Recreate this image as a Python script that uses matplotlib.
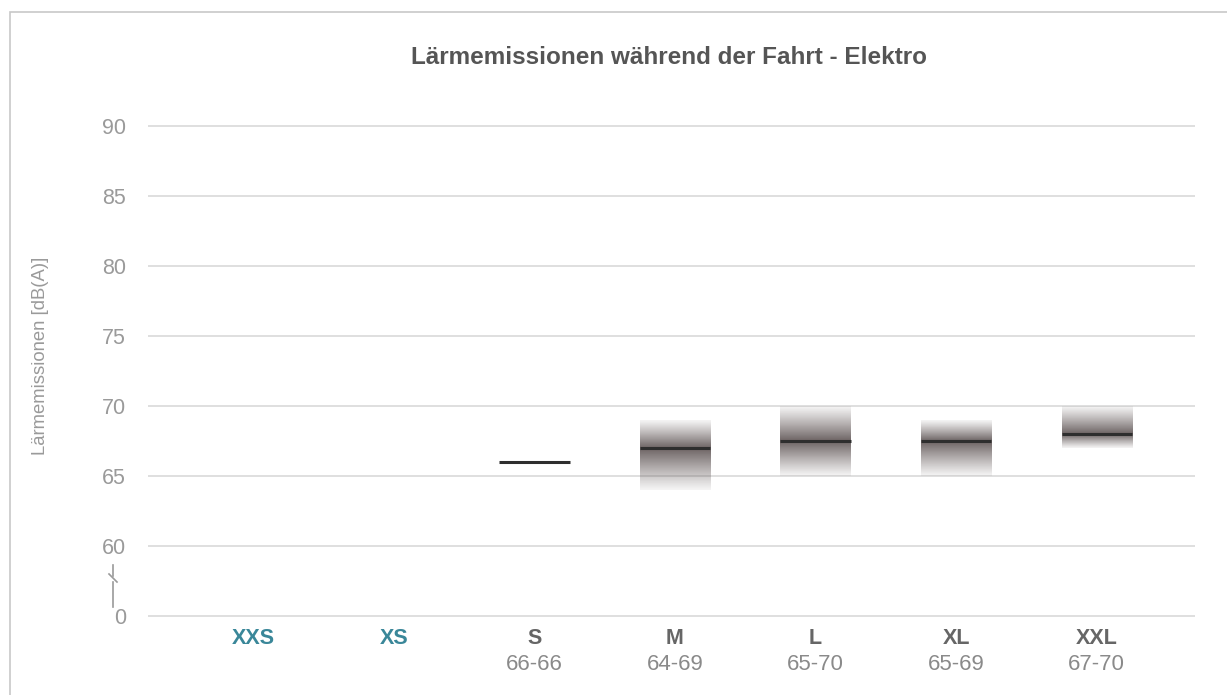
import numpy as np
import matplotlib.pyplot as plt
from matplotlib.lines import Line2D
from matplotlib.patches import Rectangle

categories = ["XXS", "XS", "S", "M", "L", "XL", "XXL"]
low = [np.nan, np.nan, 66, 64, 65, 65, 67]
high = [np.nan, np.nan, 66, 69, 70, 69, 70]
median = [np.nan, np.nan, 66, 67, 67.5, 67.5, 68]
ytick_vals = [55, 60, 65, 70, 75, 80, 85, 90]
ytick_labels = ["0", "60", "65", "70", "75", "80", "85", "90"]

plt.rcParams['font.family'] = ['Liberation Sans', 'DejaVu Sans']

fig = plt.figure(figsize=(12.27, 6.95), dpi=100)
fig.patches.append(Rectangle((10 / 1227, -0.01), 1.02, 1 - 12 / 695 + 0.01,
                             transform=fig.transFigure, fill=False,
                             edgecolor="#c8c8c8", linewidth=1.2))
ax = fig.add_axes([0.1206, 0.0734, 0.8534, 0.7856])
ax.set_xlim(-0.75, 6.7)
ax.set_ylim(53, 92)

for v in ytick_vals:
    ax.axhline(v, color="#dcdcdc", linewidth=1.3, zorder=0)

base = np.array([0.33, 0.29, 0.29])
w = 0.25
for i in range(len(categories)):
    if np.isnan(low[i]):
        continue
    lo, hi, md = low[i], high[i], median[i]
    if hi > lo:
        ys = np.linspace(lo, hi, 200)
        d = np.where(ys >= md, (ys - md) / max(hi - md, 1e-6), (md - ys) / max(md - lo, 1e-6))
        alpha = 0.06 + 0.8 * (1 - d) ** 1.1
        img = np.zeros((200, 2, 4))
        img[:, :, :3] = base
        img[:, :, 3] = alpha[:, None]
        ax.imshow(img, extent=(i - w, i + w, lo, hi), origin="lower",
                  aspect="auto", interpolation="bilinear", zorder=2)
    ax.plot([i - w, i + w], [md, md], color="#2e2e2e", linewidth=2.2,
            solid_capstyle="butt", zorder=3)

ax.set_yticks(ytick_vals)
ax.set_yticklabels(ytick_labels)
ax.tick_params(axis="y", length=0, pad=16, labelsize=15.5, labelcolor="#9a9a9a")
ax.set_xticks([])
for s in ax.spines.values():
    s.set_visible(False)

for i, c in enumerate(categories):
    if np.isnan(low[i]):
        ax.text(i, 53.4, c, ha="center", va="center", fontsize=15.5,
                fontweight="bold", color="#3a8799")
    else:
        ax.text(i, 53.4, c, ha="center", va="center", fontsize=15.5,
                fontweight="bold", color="#666666")
        ax.text(i, 51.5, "%d-%d" % (low[i], high[i]), ha="center", va="center",
                fontsize=16, color="#8a8a8a")

# axis break mark between 60 and 0
def fx(p):
    return p / 1227
def fy(p):
    return 1 - p / 695
bx = 113
lc = "#9a9a9a"
fig.add_artist(Line2D([fx(bx), fx(bx)], [fy(565), fy(576)], color=lc, linewidth=1.2))
fig.add_artist(Line2D([fx(bx - 4), fx(bx + 4)], [fy(574), fy(582)], color=lc, linewidth=1.2))
fig.add_artist(Line2D([fx(bx), fx(bx)], [fy(582), fy(607)], color=lc, linewidth=1.2))

fig.text(fx(669), fy(58), "Lärmemissionen während der Fahrt - Elektro",
         ha="center", va="center", fontsize=17.5, fontweight="bold", color="#555555")
fig.text(fx(41), fy(356), "Lärmemissionen [dB(A)]", rotation=90,
         ha="center", va="center", fontsize=13.3, color="#9a9a9a")

fig.savefig("out.png", dpi=100)
